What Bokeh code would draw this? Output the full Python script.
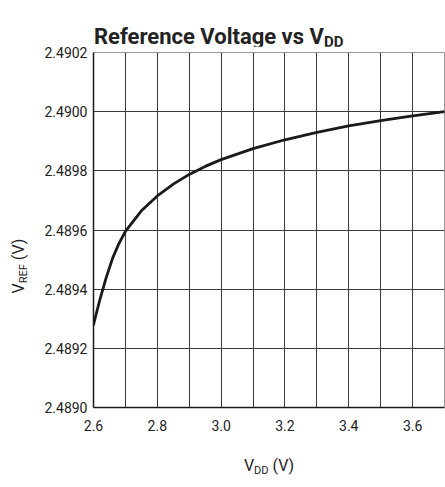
from bokeh.plotting import figure
from bokeh.models import Range1d, FixedTicker, PrintfTickFormatter, Div
from bokeh.layouts import column, row
from bokeh.embed import file_html
from bokeh.resources import INLINE

# ---- data ----
vdd = [2.60, 2.62, 2.64, 2.66, 2.68, 2.70, 2.75, 2.80, 2.85, 2.90, 2.95,
       3.00, 3.10, 3.20, 3.30, 3.40, 3.50, 3.60, 3.70]
vref = [2.489280, 2.489365, 2.489440, 2.489505, 2.489555, 2.489595,
        2.489665, 2.489715, 2.489755, 2.489788, 2.489815, 2.489838,
        2.489875, 2.489905, 2.489930, 2.489952, 2.489970, 2.489986,
        2.490000]

x_tick_labels = [2.6, 2.8, 3.0, 3.2, 3.4, 3.6]
x_grid_ticks = [2.6, 2.7, 2.8, 2.9, 3.0, 3.1, 3.2, 3.3, 3.4, 3.5, 3.6, 3.7]
y_ticks = [2.4890, 2.4892, 2.4894, 2.4896, 2.4898, 2.4900, 2.4902]

title_main = "Reference Voltage vs V"
title_sub = "DD"
xlabel_main, xlabel_sub, xlabel_tail = "V", "DD", " (V)"
ylabel_main, ylabel_sub, ylabel_tail = "V", "REF", " (V)"

FONT = "Roboto"
TXT = "#222222"

YLAB_W = 35
FIG_W = 445 - YLAB_W
TITLE_H = 46
FIG_H = 391
XLAB_H = 487 - TITLE_H - FIG_H

p = figure(width=FIG_W, height=FIG_H, output_backend="svg", toolbar_location=None,
           x_range=Range1d(2.6, 3.7), y_range=Range1d(2.4890, 2.4902),
           min_border_left=58, min_border_right=1, min_border_top=6,
           min_border_bottom=30, background_fill_color="white",
           border_fill_color="white")

p.outline_line_color = "#9a9a9a"
p.outline_line_width = 1

for ax in (p.xaxis, p.yaxis):
    ax.major_tick_out = 0
    ax.major_tick_in = 0
    ax.minor_tick_out = 0
    ax.minor_tick_in = 0
    ax.axis_line_color = "#1a1a1a"
    ax.axis_line_width = 1.5
    ax.major_label_text_font = FONT
    ax.major_label_text_font_size = "14px"
    ax.major_label_text_color = TXT

p.xaxis.ticker = FixedTicker(ticks=x_tick_labels)
p.xaxis.formatter = PrintfTickFormatter(format="%.1f")
p.xaxis.major_label_standoff = 12
p.yaxis.ticker = FixedTicker(ticks=y_ticks)
p.yaxis.formatter = PrintfTickFormatter(format="%.4f")
p.yaxis.major_label_standoff = 6

p.xgrid.ticker = FixedTicker(ticks=x_grid_ticks)
p.ygrid.ticker = FixedTicker(ticks=y_ticks)
for g in (p.xgrid, p.ygrid):
    g.grid_line_color = "#3a3a3a"
    g.grid_line_width = 1
    g.grid_line_alpha = 1.0

p.line(vdd, vref, line_color="#1a1a1a", line_width=2.8, line_join="round",
       line_cap="round")

sub_css = "font-size:{}px;vertical-align:{}px;line-height:0;"

title_html = (
    f'<div style="position:relative;width:445px;height:{TITLE_H}px;overflow:visible;">'
    f'<div style="position:absolute;left:94px;top:26px;white-space:nowrap;'
    f'font-family:{FONT};font-weight:bold;font-size:22px;line-height:22px;color:{TXT};">'
    f'{title_main}<span style="{sub_css.format(15, -3)}">{title_sub}</span></div></div>'
)

ylab_html = (
    f'<div style="position:relative;width:{YLAB_W}px;height:{FIG_H}px;">'
    f'<div style="position:absolute;left:19px;top:220px;white-space:nowrap;'
    f'transform:translate(-50%,-50%) rotate(-90deg);'
    f'font-family:{FONT};font-size:16px;line-height:16px;color:{TXT};">'
    f'{ylabel_main}<span style="{sub_css.format(11, -3)}">{ylabel_sub}</span>{ylabel_tail}</div></div>'
)

xlab_html = (
    f'<div style="position:relative;width:445px;height:{XLAB_H}px;">'
    f'<div style="position:absolute;left:269px;top:21px;white-space:nowrap;'
    f'transform:translateX(-50%);'
    f'font-family:{FONT};font-size:16px;line-height:16px;color:{TXT};">'
    f'{xlabel_main}<span style="{sub_css.format(11, -3)}">{xlabel_sub}</span>{xlabel_tail}</div></div>'
)

title_div = Div(text=title_html, width=445, height=TITLE_H, margin=0,
                styles={"overflow": "visible"})
ylab_div = Div(text=ylab_html, width=YLAB_W, height=FIG_H, margin=0)
xlab_div = Div(text=xlab_html, width=445, height=XLAB_H, margin=0)

layout = column(title_div, row(ylab_div, p, spacing=0), xlab_div, spacing=0)

open("out.html", "w").write(file_html(layout, INLINE))
